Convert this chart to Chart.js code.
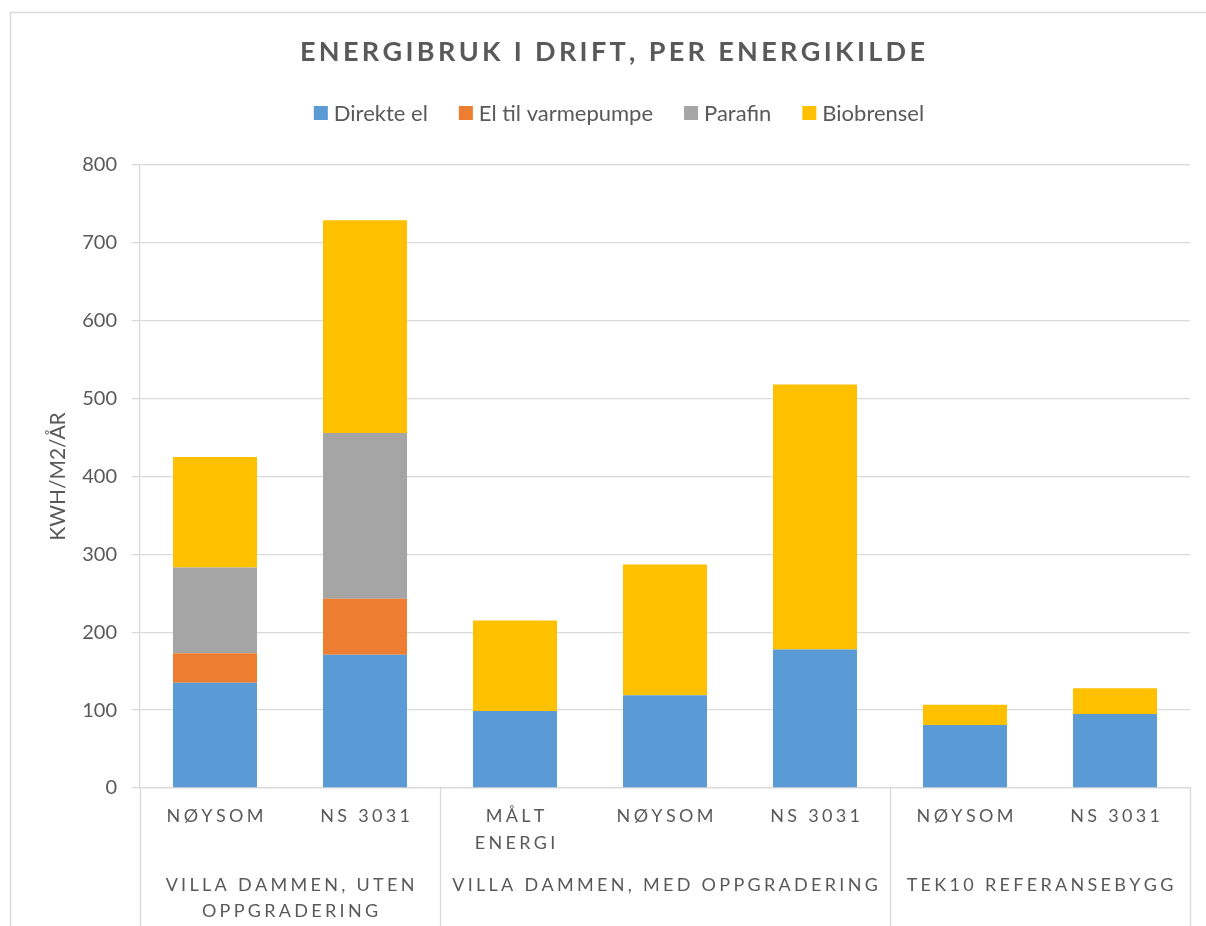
<!DOCTYPE html>
<html>
<head>
<meta charset="utf-8">
<script src="https://cdn.jsdelivr.net/npm/chart.js@4/dist/chart.umd.min.js"></script>
<style>
html,body{margin:0;padding:0;background:#fff;}
canvas{display:block;}
</style>
</head>
<body>
<canvas id="c" width="1206" height="926"></canvas>
<script>
// ---- data ----
const chartTitle = 'ENERGIBRUK I DRIFT, PER ENERGIKILDE';
const yAxisTitle = 'KWH/M2/ÅR';
const categoryLabels = [['NØYSOM'], ['NS 3031'], ['MÅLT', 'ENERGI'], ['NØYSOM'], ['NS 3031'], ['NØYSOM'], ['NS 3031']];
const groupLabels = [['VILLA DAMMEN, UTEN', 'OPPGRADERING'], ['VILLA DAMMEN, MED OPPGRADERING'], ['TEK10 REFERANSEBYGG']];
const groupSizes = [2, 3, 2];
const seriesNames = ['Direkte el', 'El til varmepumpe', 'Parafin', 'Biobrensel'];
const seriesColors = ['#5B9BD5', '#ED7D31', '#A5A5A5', '#FFC000'];
const direkteEl = [135, 171, 99, 119, 178, 81, 95];
const elTilVarmepumpe = [38, 72, null, null, null, null, null];
const parafin = [110, 213, null, null, null, null, null];
const biobrensel = [142, 273, 116, 168, 340, 26, 33];
const yMin = 0, yMax = 800, yStep = 100;

const FONT = 'Lato, "Open Sans", sans-serif';
const TEXT = '#595959';
const LINE = '#d9d9d9';

function charsWidth(ctx, text) { let w = 0; for (const ch of text) w += ctx.measureText(ch).width; return w; }
function drawSpaced(ctx, text, cx, cy, sp) {
  const n = [...text].length;
  const w = charsWidth(ctx, text) + sp * (n - 1);
  let x = cx - w / 2;
  ctx.textAlign = 'left';
  ctx.textBaseline = 'middle';
  for (const ch of text) { ctx.fillText(ch, x, cy); x += ctx.measureText(ch).width + sp; }
}

const decor = {
  id: 'decor',
  afterDraw(chart) {
    const ctx = chart.ctx;
    const area = chart.chartArea;
    const xs = chart.scales.x;
    ctx.save();
    // outer frame
    ctx.strokeStyle = LINE; ctx.lineWidth = 1.5;
    ctx.strokeRect(10.5, 12.5, 1400, 1400);
    // title
    ctx.fillStyle = TEXT;
    ctx.font = 'bold 27px ' + FONT;
    const tn = [...chartTitle].length;
    const tsp = Math.max(0, (625 - charsWidth(ctx, chartTitle)) / (tn - 1));
    drawSpaced(ctx, chartTitle, 612.5, 52, tsp);
    // legend
    ctx.font = '22px ' + FONT;
    const box = 14, gapBT = 6, gapItem = 31;
    const widths = chart.data.datasets.map(d => ctx.measureText(d.label).width);
    const total = widths.reduce((a, b) => a + b, 0) + chart.data.datasets.length * (box + gapBT) + gapItem * (chart.data.datasets.length - 1);
    let lx = 619 - total / 2;
    const ly = 113;
    chart.data.datasets.forEach((d, i) => {
      ctx.fillStyle = d.backgroundColor;
      ctx.fillRect(lx, ly - box / 2, box, box);
      lx += box + gapBT;
      ctx.fillStyle = TEXT;
      ctx.textAlign = 'left'; ctx.textBaseline = 'middle';
      ctx.fillText(d.label, lx, ly + 1);
      lx += widths[i] + gapItem;
    });
    // category labels
    ctx.fillStyle = TEXT;
    ctx.font = '18px ' + FONT;
    categoryLabels.forEach((lines, i) => {
      const cx = xs.getPixelForValue(i);
      lines.forEach((t, j) => drawSpaced(ctx, t, cx, 816 + j * 27, 3.3));
    });
    // group separators and labels
    ctx.strokeStyle = LINE; ctx.lineWidth = 1.3;
    const bounds = [area.left];
    let c = 0;
    groupSizes.forEach(s => {
      c += s;
      if (c < categoryLabels.length) bounds.push((xs.getPixelForValue(c - 1) + xs.getPixelForValue(c)) / 2);
    });
    bounds.push(area.right);
    bounds.forEach(bx => {
      ctx.beginPath(); ctx.moveTo(Math.round(bx) + 0.5, area.bottom); ctx.lineTo(Math.round(bx) + 0.5, 926); ctx.stroke();
    });
    groupLabels.forEach((lines, g) => {
      const cx = (bounds[g] + bounds[g + 1]) / 2;
      lines.forEach((t, j) => drawSpaced(ctx, t, cx, 885 + j * 26, 3.3));
    });
    ctx.restore();
  }
};

const seriesData = [direkteEl, elTilVarmepumpe, parafin, biobrensel];
new Chart(document.getElementById('c'), {
  type: 'bar',
  data: {
    labels: categoryLabels.map(l => l.join(' ')),
    datasets: seriesNames.map((name, i) => ({
      label: name,
      data: seriesData[i],
      backgroundColor: seriesColors[i],
      borderWidth: 0,
      barPercentage: 0.56,
      categoryPercentage: 1.0
    }))
  },
  options: {
    responsive: false,
    animation: false,
    layout: { padding: { top: 165, left: 0, right: 16, bottom: 0 } },
    plugins: { legend: { display: false }, title: { display: false }, tooltip: { enabled: false } },
    scales: {
      x: {
        stacked: true,
        grid: { display: false },
        border: { display: true, color: LINE, width: 1.3 },
        ticks: { display: false },
        afterFit(s) { s.height = 138; }
      },
      y: {
        stacked: true,
        min: yMin, max: yMax,
        ticks: { stepSize: yStep, font: { family: FONT, size: 20 }, color: TEXT, padding: 15 },
        grid: { color: LINE, lineWidth: 1.3, tickLength: 8 },
        border: { color: LINE, width: 1.3 },
        title: { display: true, text: yAxisTitle, font: { family: FONT, size: 21 }, color: TEXT, padding: { top: 46, bottom: 0 } },
        afterFit(s) { s.width = 140; }
      }
    }
  },
  plugins: [decor]
});
</script>
</body>
</html>
